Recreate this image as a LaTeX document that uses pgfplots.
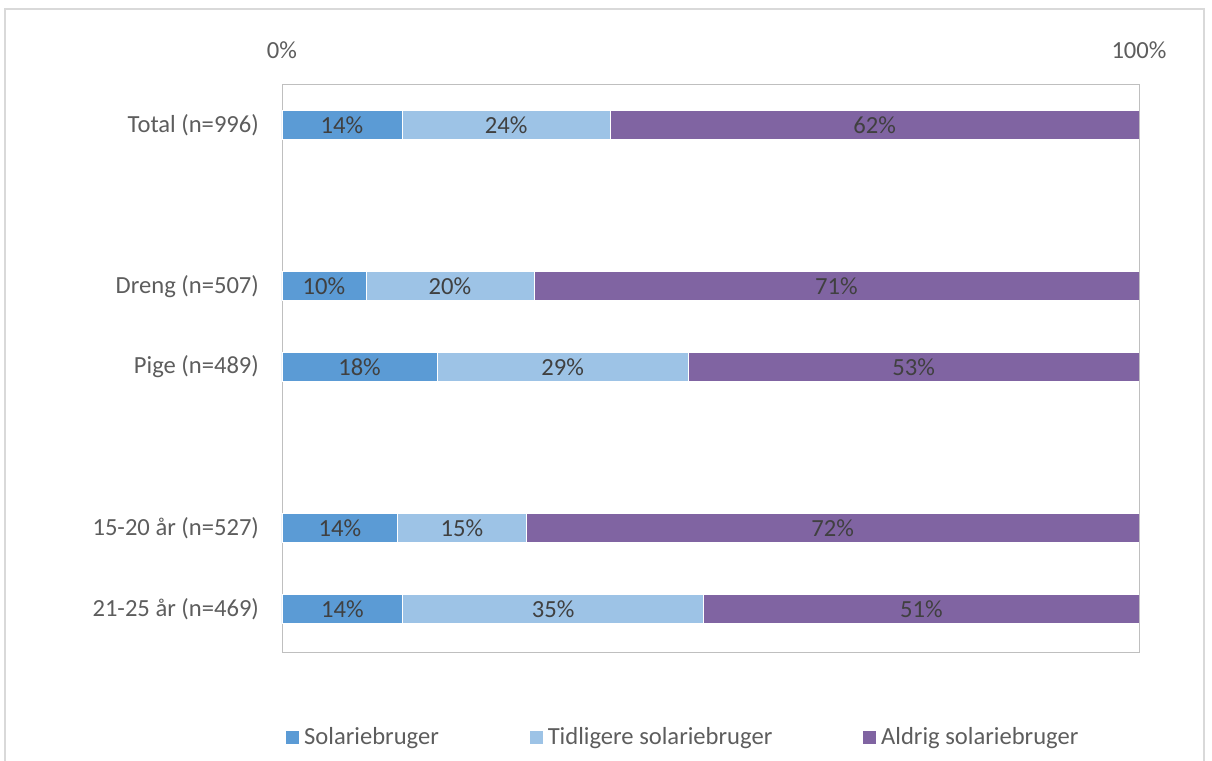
\documentclass[border=0pt]{standalone}
\usepackage{pgfplots}
\pgfplotsset{compat=1.18}
\usepackage{pgfplotstable}
\usepackage{fontspec}
\setmainfont{Carlito}
\definecolor{cA}{HTML}{5B9BD5}
\definecolor{cB}{HTML}{9DC3E6}
\definecolor{cC}{HTML}{8064A2}
\definecolor{txt}{HTML}{404040}
\definecolor{frame}{HTML}{D9D9D9}
\definecolor{axgray}{HTML}{BFBFBF}
\pgfplotstableread{
y a b c la lb lc
6 14.0 24.3 61.7 14 24 62
4 9.8 19.6 70.6 10 20 71
3 18.1 29.3 52.6 18 29 53
1 13.5 15.0 71.5 14 15 72
0 14.1 35.1 50.8 14 35 51
}\datatab
\begin{document}
\begin{tikzpicture}
\begin{axis}[
  at={(141pt,54.5pt)}, anchor=south west,
  scale only axis, width=428.5pt, height=284pt,
  xbar stacked, bar width=14.5pt,
  xmin=0, xmax=100, ymin=-0.533, ymax=6.508,
  xtick={0,100}, xticklabels={0\%,100\%},
  xticklabel pos=upper,
  ytick={0,1,3,4,6},
  yticklabels={21-25 år (n=469),15-20 år (n=527),Pige (n=489),Dreng (n=507),Total (n=996)},
  major tick length=0pt,
  axis line style={axgray},
  tick label style={font=\fontsize{12.3}{14}\selectfont, text=txt!85},
  xticklabel style={yshift=9pt},
  yticklabel style={xshift=-8pt},
  /pgf/number format/assume math mode=true,
  point meta=explicit symbolic,
  nodes near coords={\pgfplotspointmeta\%},
  every node near coord/.append style={font=\fontsize{12.3}{14}\selectfont, text=txt, anchor=center},
  legend columns=3,
  legend style={at={(0.469,-0.15)}, anchor=center, draw=none, fill=none,
    font=\fontsize{12.3}{14}\selectfont, text=txt!85,
    /tikz/every even column/.append style={column sep=43pt}},
  legend image code/.code={\fill[#1] (0pt,-3.5pt) rectangle (7pt,3.5pt);},
]
\addplot[fill=cA, draw=white, line width=0.4pt]
  table[x=a, y=y, meta=la] {\datatab};
\addplot[fill=cB, draw=white, line width=0.4pt]
  table[x=b, y=y, meta=lb] {\datatab};
\addplot[fill=cC, draw=white, line width=0.4pt]
  table[x=c, y=y, meta=lc] {\datatab};
\legend{Solariebruger, Tidligere solariebruger, Aldrig solariebruger}
\end{axis}
\draw[frame, line width=0.8pt] (2.5pt,-10pt) rectangle (602pt,376pt);
\pgfresetboundingbox
\useasboundingbox (0,0) rectangle (606pt,380.5pt);
\end{tikzpicture}
\end{document}
